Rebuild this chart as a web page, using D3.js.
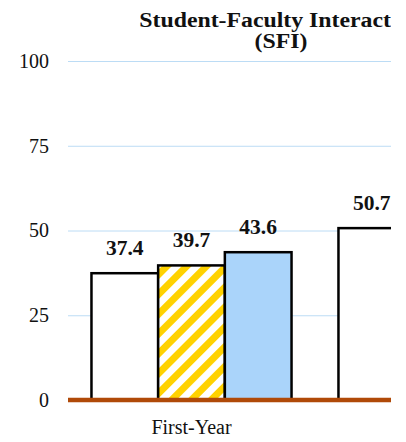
<!DOCTYPE html>
<html>
<head>
<meta charset="utf-8">
<script src="https://cdn.jsdelivr.net/npm/d3@7/dist/d3.min.js"></script>
<style>
  html, body { margin: 0; padding: 0; background: #fff; }
  svg { display: block; }
</style>
</head>
<body>
<script>
// Student-Faculty Interaction benchmark scores by class year
const categories = ["First-Year", "Senior"];
const series = ["Institution", "Comparison A", "Comparison B"];
const firstYearValues = [37.4, 39.7, 43.6];
const seniorValues = [50.7];
const yTicks = [0, 25, 50, 75, 100];
const titleLines = ["Student-Faculty Interaction", "(SFI)"];

const seriesFill = ["#ffffff", "url(#stripes)", "#aad4fa"];

const rows = [
  { category: categories[0], values: firstYearValues },
  { category: categories[1], values: seniorValues }
];

const W = 406, H = 442;
const plot = { left: 68, right: 391, top: 61, bottom: 400 };
const serif = "'Liberation Serif', 'Times New Roman', serif";

const svg = d3.select("body").append("svg")
  .attr("width", W).attr("height", H);

const defs = svg.append("defs");
const pat = defs.append("pattern")
  .attr("id", "stripes")
  .attr("patternUnits", "userSpaceOnUse")
  .attr("width", 14).attr("height", 14)
  .attr("patternTransform", "rotate(45)");
pat.append("rect").attr("width", 14).attr("height", 14).attr("fill", "#ffffff");
pat.append("rect").attr("width", 7).attr("height", 14).attr("fill", "#ffd200");

defs.append("clipPath").attr("id", "frame")
  .append("rect").attr("x", 0).attr("y", 0)
  .attr("width", plot.right).attr("height", H);

const root = svg.append("g").attr("clip-path", "url(#frame)");

const step = 247;
const x0 = d3.scaleBand()
  .domain(categories)
  .range([plot.left, plot.left + step * categories.length])
  .paddingInner(0.19)
  .paddingOuter(0.095);

const x1 = d3.scaleBand()
  .domain(series)
  .range([0, x0.bandwidth()]);

const y = d3.scaleLinear().domain([0, 100]).range([plot.bottom, plot.top]);

// gridlines and tick labels
const yAxis = d3.axisLeft(y)
  .tickValues(yTicks)
  .tickSize(-(plot.right - plot.left))
  .tickPadding(19)
  .tickFormat(d3.format("d"));

const gy = root.append("g")
  .attr("transform", `translate(${plot.left},0)`)
  .call(yAxis);
gy.select(".domain").remove();
gy.selectAll(".tick line").attr("stroke", "#bcdcf5").attr("stroke-width", 1);
gy.selectAll(".tick text")
  .attr("font-family", serif)
  .attr("font-size", 20)
  .attr("fill", "#111");

// bars
const groups = root.selectAll(".grp").data(rows).join("g")
  .attr("class", "grp")
  .attr("transform", d => `translate(${x0(d.category)},0)`);

groups.selectAll("rect").data(d => d.values.map((v, i) => ({ v, s: series[i], i })))
  .join("rect")
  .attr("x", d => x1(d.s))
  .attr("y", d => y(d.v))
  .attr("width", x1.bandwidth())
  .attr("height", d => y(0) - y(d.v))
  .attr("fill", d => seriesFill[d.i])
  .attr("stroke", "#000")
  .attr("stroke-width", 2.5);

groups.selectAll("text.val").data(d => d.values.map((v, i) => ({ v, s: series[i] })))
  .join("text")
  .attr("class", "val")
  .attr("x", d => x1(d.s) + x1.bandwidth() / 2)
  .attr("y", d => y(d.v) - 18)
  .attr("text-anchor", "middle")
  .attr("font-family", serif)
  .attr("font-weight", "bold")
  .attr("font-size", 21.5)
  .attr("fill", "#111")
  .text(d => d3.format(".1f")(d.v));

// baseline
root.append("line")
  .attr("x1", plot.left).attr("x2", plot.right)
  .attr("y1", y(0)).attr("y2", y(0))
  .attr("stroke", "#b04a08").attr("stroke-width", 4.5);

// category labels (only those whose group sits inside the frame)
root.selectAll("text.cat")
  .data(categories.filter(c => x0(c) + x0.bandwidth() / 2 < plot.right))
  .join("text")
  .attr("class", "cat")
  .attr("x", d => x0(d) + x0.bandwidth() / 2)
  .attr("y", 434)
  .attr("text-anchor", "middle")
  .attr("font-family", serif)
  .attr("font-size", 20)
  .attr("fill", "#111")
  .text(d => d);

// title, set wide
const titleX = 281;
const title = root.append("text")
  .attr("transform", `translate(${titleX},0) scale(1.19,1)`)
  .attr("text-anchor", "middle")
  .attr("font-family", serif)
  .attr("font-weight", "bold")
  .attr("font-size", 20)
  .attr("fill", "#111");
title.selectAll("tspan").data(titleLines).join("tspan")
  .attr("x", 0)
  .attr("y", (d, i) => 27 + i * 21)
  .text(d => d);
</script>
</body>
</html>
